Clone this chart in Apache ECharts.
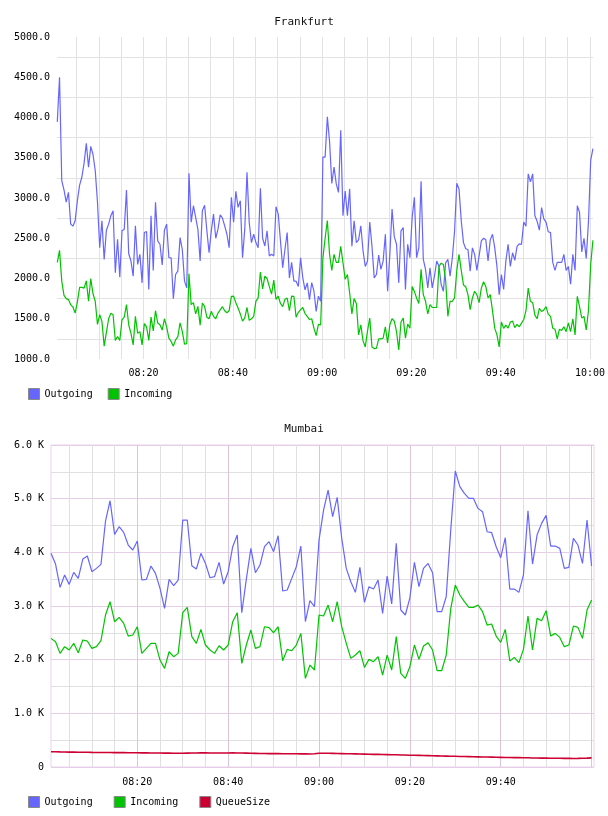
<!DOCTYPE html>
<html>
<head>
<meta charset="utf-8">
<script src="https://cdn.jsdelivr.net/npm/echarts@6/dist/echarts.min.js"></script>
<style>
html,body{margin:0;padding:0;background:#fff;}
#chart{width:608px;height:816px;}
</style>
</head>
<body>
<div id="chart"></div>
<script>
// ---------------- DATA ----------------
const seriesNames = ['Outgoing', 'Incoming', 'QueueSize'];
const topTitle = 'Frankfurt';
const bottomTitle = 'Mumbai';

// Frankfurt: samples every 30 s starting 08:00:40
const topStart = '08:00:40';
const topStepSec = 30;
const topAxisMin = '08:00:36';
const topAxisMax = '10:00:44';
const topGridTicks = ['08:05','08:10','08:15','08:20','08:25','08:30','08:35','08:40','08:45','08:50','08:55','09:00',
  '09:05','09:10','09:15','09:20','09:25','09:30','09:35','09:40','09:45','09:50','09:55','10:00'];
const topLabelTicks = ['08:20','08:40','09:00','09:20','09:40','10:00'];

const frankfurtOutgoing = [
3946,4500,3217,3100,2950,3071,2675,2650,2717,2967,
3160,3258,3433,3680,3383,3642,3540,3342,2950,2383,
2717,2238,2600,2675,2780,2842,2071,2488,2017,2592,
2613,3100,2308,2217,2029,2654,2175,2300,1946,2571,
2583,1863,2779,2100,2946,2467,2425,2167,2600,2675,
2258,2258,1750,2050,2092,2508,2363,1967,1883,3308,
2700,2904,
2758,2610,2217,2842,2910,2600,2321,2592,2800,2500,
2613,2792,2750,2654,2550,2383,3008,2700,3083,2883,
2967,2258,2613,3321,2696,2446,2550,2446,2383,3121,
2500,2404,2592,2279,2300,2279,2892,2800,2467,2133,
2360,2571,2008,2200,1967,1967,1900,2258,2008,1860,
1946,1738,1950,1842,1592,1780,1717,3508,3508,4008,
3700,3180,3383,3175,3070,3842,2779,3085,2779,3113,
2400,2717,2446,2480,2654,2342,2150,2217,2700,2400,
2008,2050,2290,2113,2217,2550,1842,2300,2863,2520,
2425,1946,2592,2633,1863,2425,2258,2758,3008,2258,
2383,3208,2238,2113,1883,2133,1883,2029,2217,2154,
1925,1842,2196,2238,2029,2258,2583,3183,3113,2717,
2446,
2370,2360,2092,2380,2300,2100,2280,2467,2500,2480,
2217,2480,2550,2383,2150,1800,2050,1863,2220,2425,
2150,2320,2225,2400,2430,2425,2700,2650,3300,3200,
3300,2780,2710,2600,2880,2740,2700,2580,2570,2200,
2100,2200,2200,2200,2300,2100,2150,1930,2300,2100,
2904,2821,2330,2500,2250,2700,3467,3613
];

const frankfurtIncoming = [
2200,2350,1967,1790,1750,1738,1675,1645,1571,1710,
1890,1890,1880,1970,1717,2000,1810,1717,1430,1550,
1467,1160,1330,1500,1570,1550,1230,1280,1230,1490,
1520,1675,1425,1320,1175,1529,1321,1340,1175,1440,
1400,1230,1520,1350,1600,1446,1425,1360,1500,1400,
1260,1217,1160,1238,1275,1450,1342,1185,1190,2058,
1675,1700,
1560,1654,1420,1696,1654,1520,1500,1592,1530,1500,
1571,1610,1650,1600,1575,1600,1779,1780,1700,1633,
1560,1470,1510,1640,1480,1500,1530,1720,1760,2080,
1870,2030,2000,1900,1805,1980,1740,1780,1690,1650,
1740,1758,1600,1780,1779,1520,1580,1613,1640,1565,
1529,1490,1500,1383,1290,1430,1425,2250,2500,2720,
2300,2100,2300,2200,2200,2400,2196,1990,2050,1820,
1560,1750,1690,1300,1425,1225,1150,1350,1508,1150,
1130,1133,1250,1250,1258,1400,1200,1425,1500,1470,
1340,1113,1460,1508,1260,1435,1383,1900,1840,1755,
1690,2113,1800,1717,1560,1675,1640,1640,1640,2150,
2190,2175,1980,1530,1717,1717,1760,2100,2300,2100,
1920,
1900,1800,1613,1760,1842,1800,1700,1880,1960,1900,
1758,1800,1600,1383,1300,1150,1460,1380,1420,1383,
1460,1470,1390,1430,1400,1446,1490,1600,1880,1717,
1700,1545,1500,1630,1590,1610,1650,1555,1530,1383,
1370,1250,1370,1355,1400,1340,1450,1340,1500,1300,
1779,1650,1510,1529,1360,1600,2175,2475
];

// Mumbai: samples every 60 s starting 08:01
const bottomStart = '08:01:00';
const bottomStepSec = 60;
const bottomAxisMin = '08:01:00';
const bottomAxisMax = '10:00:32';
const bottomGridTicks = ['08:05','08:10','08:15','08:20','08:25','08:30','08:35','08:40','08:45','08:50','08:55','09:00',
  '09:05','09:10','09:15','09:20','09:25','09:30','09:35','09:40','09:45','09:50','09:55','10:00'];
const bottomLabelTicks = ['08:20','08:40','09:00','09:20','09:40'];

const mumbaiOutgoing = [
3981,3782,3347,3577,3403,3627,3515,3875,3931,3639,
3701,3776,4583,4962,4335,4478,4372,4136,4043,4210,
3484,3496,3745,3608,3329,2956,3496,3378,3484,4602,
4602,3751,3689,3981,3794,3527,3546,3813,3409,3639,
4105,4322,2875,3500,4074,3620,3763,4105,4198,4012,
4310,3279,3298,3515,3732,4117,2710,3100,2990,4229,
4788,5161,4664,5024,4260,3701,3453,3254,3720,3068,
3360,3316,3484,2863,3558,3040,4167,2925,2832,3150,
3813,3360,3701,3794,3620,2894,2894,3173,4415,5515,
5223,5098,5005,5005,4819,4757,4384,4366,4105,3900,
4273,3316,3316,3254,3577,4776,3782,4322,4540,4689,
4117,4117,4074,3701,3720,4260,4136,3794,4602,3745
];
const mumbaiIncoming = [
2397,2335,2117,2242,2180,2304,2130,2366,2347,2211,
2242,2353,2832,3080,2707,2788,2676,2440,2459,2614,
2117,2211,2304,2304,1993,1838,2148,2055,2117,2875,
2974,2428,2304,2564,2273,2180,2117,2260,2180,2273,
2707,2875,1931,2273,2552,2211,2242,2614,2596,2502,
2614,1981,2192,2167,2273,2490,1652,1900,1807,2832,
2813,3018,2707,3080,2614,2304,2024,2086,2167,1857,
2006,1962,2055,1714,2086,1807,2428,1745,1652,1869,
2273,2006,2254,2316,2180,1794,1794,2086,2950,3391,
3205,3080,2975,2975,3018,2894,2645,2664,2440,2322,
2564,1975,2043,1944,2192,2813,2180,2769,2726,2912,
2440,2490,2415,2242,2273,2627,2602,2397,2925,3111
];
const mumbaiQueueSize = [
285,283,281,280,278,277,276,275,274,272,
271,270,270,269,268,268,267,266,266,265,
264,263,262,261,260,259,258,257,256,256,
258,260,262,263,263,262,262,261,262,262,
263,262,261,259,256,254,252,251,250,250,
249,248,247,246,246,245,244,243,248,255,
257,256,254,252,250,248,246,244,242,240,
238,236,235,233,231,229,227,225,223,220,
218,216,214,212,209,207,205,203,201,199,
197,195,193,191,189,187,186,184,182,180,
178,177,175,174,172,171,169,168,166,165,
164,163,162,161,160,159,160,163,166,170
];

const topYTicks = { min: 1000, max: 5000, step: 250, labelEvery: 500 };
const bottomYTicks = { min: 0, max: 6000, step: 500, labelEvery: 1000 };

// ---------------- HELPERS ----------------
// time of day -> minutes since midnight (numeric x axis)
function tm(hms) {
  const p = hms.split(':').map(Number);
  return p[0] * 60 + p[1] + (p[2] || 0) / 60;
}
function pairs(startHms, stepSec, values) {
  const t0 = tm(startHms);
  return values.map((v, i) => [t0 + i * stepSec / 60, v]);
}
function hhmm(v) {
  const tot = Math.round(v);
  const h = String(Math.floor(tot / 60)).padStart(2, '0');
  const m = String(tot % 60).padStart(2, '0');
  return h + ':' + m;
}

const FONT = 'DejaVu Sans Mono';
const C_OUT = '#6666ff', C_IN = '#00c400', C_Q = '#cc0033';
const labelStyle = { fontFamily: FONT, fontSize: 10, color: '#000' };

const chart = echarts.init(document.getElementById('chart'), null, { renderer: 'canvas' });

const option = {
  animation: false,
  backgroundColor: '#fff',
  title: [
    { text: topTitle, left: 'center', top: 12, textStyle: { fontFamily: FONT, fontSize: 11, fontWeight: 'normal', color: '#111' } },
    { text: bottomTitle, left: 'center', top: 419, textStyle: { fontFamily: FONT, fontSize: 11, fontWeight: 'normal', color: '#111' } }
  ],
  legend: [
    { data: [seriesNames[0], seriesNames[1]], left: 23, top: 383, icon: 'rect', itemWidth: 11, itemHeight: 11, itemGap: 15,
      textStyle: labelStyle, itemStyle: { borderColor: '#888', borderWidth: 1 }, selectedMode: false },
    { data: seriesNames, left: 23, top: 791, icon: 'rect', itemWidth: 11, itemHeight: 11, itemGap: 21,
      textStyle: labelStyle, itemStyle: { borderColor: '#888', borderWidth: 1 }, selectedMode: false }
  ],
  grid: [
    { left: 57, right: 14, top: 37, height: 322, show: false },
    { left: 51, right: 14, top: 445, height: 322, show: true, borderColor: '#ecd3ec', borderWidth: 1 }
  ],
  xAxis: [
    { type: 'value', gridIndex: 0, min: tm(topAxisMin), max: tm(topAxisMax),
      axisLine: { show: false },
      axisTick: { show: false, customValues: topGridTicks.map(tm) },
      axisLabel: { customValues: topLabelTicks.map(tm), formatter: hhmm, margin: 9, ...labelStyle, hideOverlap: false },
      splitLine: { show: true, lineStyle: { color: '#e2e2e2', width: 1 } } },
    { type: 'value', gridIndex: 1, min: tm(bottomAxisMin), max: tm(bottomAxisMax),
      axisLine: { show: false },
      axisTick: { show: false, customValues: bottomGridTicks.map(tm) },
      axisLabel: { customValues: bottomLabelTicks.map(tm), formatter: hhmm, margin: 10, ...labelStyle, hideOverlap: false },
      splitLine: { show: true, lineStyle: { color: ['#e0e0e0', '#e0e0e0', '#e0e0e0', '#dcc4dc'], width: 1 } } }
  ],
  yAxis: [
    { type: 'value', gridIndex: 0, min: topYTicks.min, max: topYTicks.max, interval: topYTicks.step,
      axisLine: { show: false }, axisTick: { show: false },
      axisLabel: { margin: 7, ...labelStyle, formatter: v => (v % topYTicks.labelEvery === 0 ? v.toFixed(1) : '') },
      splitLine: { show: true, lineStyle: { color: ['rgba(0,0,0,0)', '#e2e2e2'], width: 1 } } },
    { type: 'value', gridIndex: 1, min: bottomYTicks.min, max: bottomYTicks.max, interval: bottomYTicks.step,
      axisLine: { show: false }, axisTick: { show: false },
      axisLabel: { margin: 7, ...labelStyle, formatter: v => (v % bottomYTicks.labelEvery !== 0 ? '' : (v === 0 ? '0' : (v / 1000).toFixed(1) + ' K')) },
      splitLine: { show: true, lineStyle: { color: ['#e6cfe6', '#e0e0e0'], width: 1 } } }
  ],
  series: [
    { name: seriesNames[0], type: 'line', xAxisIndex: 0, yAxisIndex: 0, showSymbol: false, symbol: 'none',
      data: pairs(topStart, topStepSec, frankfurtOutgoing), lineStyle: { color: C_OUT, width: 1.2 }, itemStyle: { color: C_OUT } },
    { name: seriesNames[1], type: 'line', xAxisIndex: 0, yAxisIndex: 0, showSymbol: false, symbol: 'none',
      data: pairs(topStart, topStepSec, frankfurtIncoming), lineStyle: { color: C_IN, width: 1.2 }, itemStyle: { color: C_IN } },
    { name: seriesNames[0], type: 'line', xAxisIndex: 1, yAxisIndex: 1, showSymbol: false, symbol: 'none',
      data: pairs(bottomStart, bottomStepSec, mumbaiOutgoing), lineStyle: { color: C_OUT, width: 1.2 }, itemStyle: { color: C_OUT } },
    { name: seriesNames[1], type: 'line', xAxisIndex: 1, yAxisIndex: 1, showSymbol: false, symbol: 'none',
      data: pairs(bottomStart, bottomStepSec, mumbaiIncoming), lineStyle: { color: C_IN, width: 1.2 }, itemStyle: { color: C_IN } },
    { name: seriesNames[2], type: 'line', xAxisIndex: 1, yAxisIndex: 1, showSymbol: false, symbol: 'none',
      data: pairs(bottomStart, bottomStepSec, mumbaiQueueSize), lineStyle: { color: C_Q, width: 1.6 }, itemStyle: { color: C_Q } }
  ]
};
chart.setOption(option);
</script>
</body>
</html>
